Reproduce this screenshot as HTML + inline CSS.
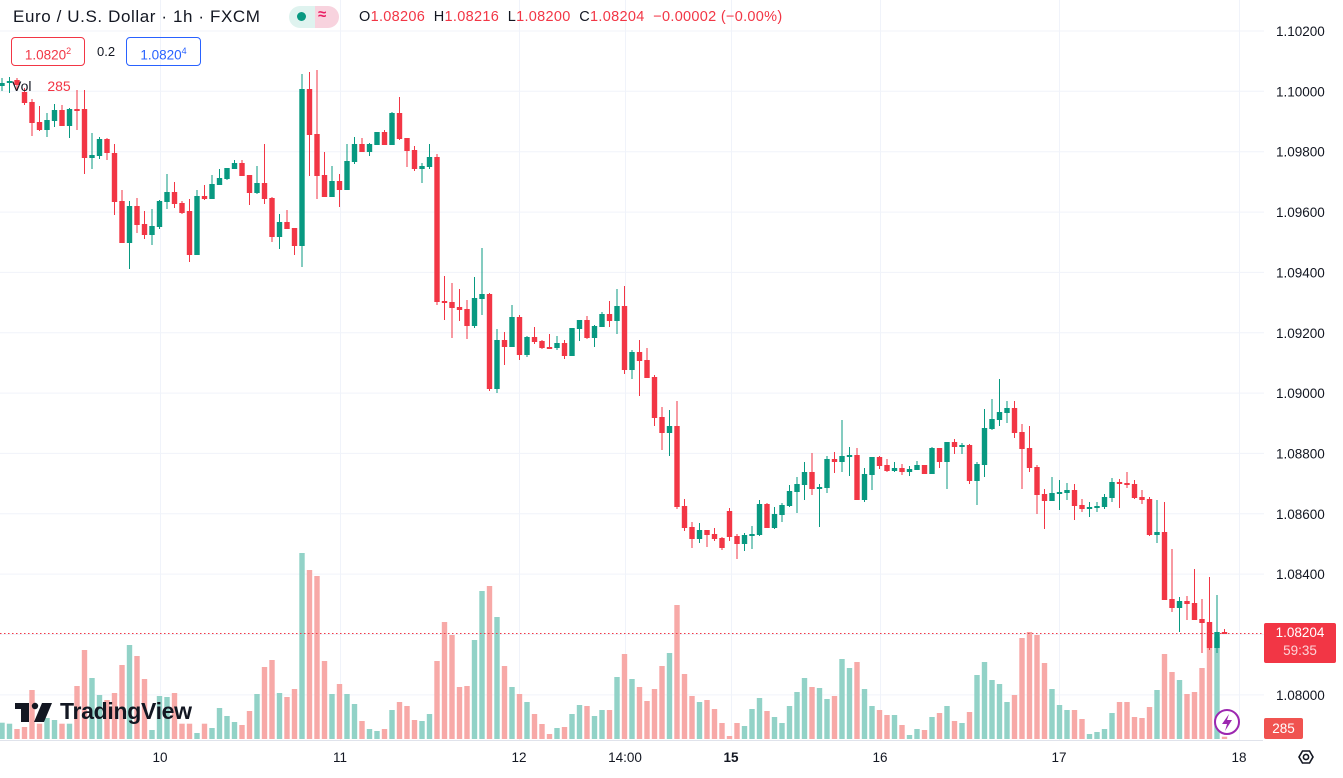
<!DOCTYPE html>
<html><head><meta charset="utf-8"><style>
html,body{margin:0;padding:0;background:#fff;}
body{width:1343px;height:778px;overflow:hidden;position:relative;font-family:"Liberation Sans",sans-serif;color:#131722;}
svg{position:absolute;left:0;top:0;}
.t{position:absolute;white-space:nowrap;}
</style></head><body>
<svg id="c" width="1343" height="778" xmlns="http://www.w3.org/2000/svg"></svg>
<div class="t" style="left:13px;top:7px;font-size:17px;letter-spacing:0.6px;">Euro / U.S. Dollar · 1h · FXCM</div>
<div class="t" style="left:289px;top:6px;width:26px;height:22px;background:#dff3ef;border-radius:11px 0 0 11px;"></div>
<div class="t" style="left:315px;top:6px;width:24px;height:22px;background:#f8d3de;border-radius:0 11px 11px 0;"></div>
<div class="t" style="left:297px;top:12px;width:9px;height:9px;border-radius:50%;background:#089981;"></div>
<div class="t" style="left:318px;top:6px;font-size:15px;color:#e91e63;font-weight:bold;">≈</div>
<div class="t" style="left:359px;top:9px;font-size:14.5px;letter-spacing:0.3px;">O<span style="color:#f23645">1.08206</span>&nbsp; H<span style="color:#f23645">1.08216</span>&nbsp; L<span style="color:#f23645">1.08200</span>&nbsp; C<span style="color:#f23645">1.08204</span>&nbsp; <span style="color:#f23645">−0.00002 (−0.00%)</span></div>
<div class="t" style="left:11px;top:37px;width:72px;height:27px;border:1px solid #f23645;border-radius:4px;color:#f23645;font-size:13.5px;line-height:27px;text-align:center;">1.0820<sup style="font-size:9px">2</sup></div>
<div class="t" style="left:97px;top:44px;font-size:13px;">0.2</div>
<div class="t" style="left:126px;top:37px;width:73px;height:27px;border:1px solid #2962ff;border-radius:4px;color:#2962ff;font-size:13.5px;line-height:27px;text-align:center;">1.0820<sup style="font-size:9px">4</sup></div>
<div class="t" style="left:12px;top:78px;font-size:14px;">Vol <span style="color:#f23645;margin-left:12px">285</span></div>
<div class="t" style="left:60px;top:698px;font-size:23px;font-weight:bold;color:#131722;letter-spacing:-0.3px;">TradingView</div>
<div class="t" style="left:1264px;top:623px;width:72px;height:39px;background:#f23645;border-radius:2px;color:#fff;font-size:13.5px;line-height:18px;text-align:center;padding-top:1px;">1.08204<br><span style="color:#fcd3d7">59:35</span></div>
<div class="t" style="left:1264px;top:718px;width:39px;height:21px;background:#f05350;border-radius:2px;color:#fff;font-size:13.5px;line-height:21px;text-align:center;">285</div>
<script>
var s=document.getElementById('c');var h='';
function L(x1,y1,x2,y2,c,w,d){h+='<line x1="'+x1+'" y1="'+y1+'" x2="'+x2+'" y2="'+y2+'" stroke="'+c+'" stroke-width="'+(w||1)+'"'+(d?' stroke-dasharray="'+d+'"':'')+'/>';}
function R(x,y,w,hh,c){h+='<rect x="'+x+'" y="'+y+'" width="'+w+'" height="'+hh+'" fill="'+c+'"/>';}
function T(x,y,t,sz,c,a,fw){h+='<text x="'+x+'" y="'+y+'" font-size="'+sz+'" fill="'+(c||'#131722')+'" text-anchor="'+(a||'start')+'"'+(fw?' font-weight="'+fw+'"':'')+' font-family="Liberation Sans, sans-serif">'+t+'</text>';}
var pr=['1.10200','1.10000','1.09800','1.09600','1.09400','1.09200','1.09000','1.08800','1.08600','1.08400','1.08200','1.08000'];
for(var k=0;k<12;k++){var y=31+k*60.35;L(0,y.toFixed(1),1264,y.toFixed(1),'#f0f3fa');if(k!=10)T(1276,y+5,pr[k],13.5,'#131722');}
[160,340,519,625,731,880,1059,1239].forEach(function(x){L(x+.5,0,x+.5,740,'#f0f3fa');});
var C=[[86,83,78,91],[83,81,77,93],[80,85,78,90],[92,103,88,105],[102,123,99,136],[122,130,106,131],[130,120,113,137],[121,110,104,127],[110,126,105,126],[126,109,108,138],[109,110,90,130],[109,158,90,174],[158,155,133,169],[156,139,137,159],[139,153,138,160],[153,202,144,215],[201,243,190,243],[243,206,201,269],[206,225,198,233],[224,235,211,239],[235,226,209,245],[227,201,200,229],[202,192,174,209],[192,204,182,208],[203,213,201,214],[211,255,199,262],[255,196,190,255],[196,199,185,200],[199,184,175,199],[185,178,169,185],[179,168,168,180],[169,163,160,169],[163,176,160,176],[175,193,175,205],[193,183,166,194],[183,199,144,204],[198,237,197,242],[237,222,214,249],[222,229,210,229],[228,246,228,255],[246,89,74,267],[89,135,72,176],[134,176,70,199],[175,197,152,197],[197,181,166,197],[181,190,174,207],[190,161,144,190],[162,144,137,164],[144,152,138,152],[152,144,143,156],[145,132,132,145],[132,145,130,145],[145,113,112,145],[113,139,97,140],[138,151,138,167],[150,169,146,171],[169,166,163,183],[167,157,144,169],[157,302,154,305],[301,303,276,320],[302,308,283,338],[307,310,289,321],[309,326,300,339],[326,298,277,328],[299,294,248,315],[294,389,293,391],[389,340,329,393],[340,347,332,365],[347,317,305,347],[317,355,315,360],[355,337,336,357],[337,342,327,344],[341,348,340,349],[347,348,334,349],[348,343,336,350],[343,356,340,359],[356,328,328,356],[329,320,320,341],[320,338,316,339],[338,326,325,347],[327,314,312,327],[314,321,301,327],[321,306,289,334],[306,370,286,374],[370,352,350,379],[352,361,340,396],[360,378,348,378],[377,418,375,426],[417,433,407,450],[433,426,410,456],[426,507,401,509],[506,528,499,531],[527,539,522,548],[539,530,523,543],[530,535,530,547],[534,539,528,541],[538,548,537,550],[511,537,508,541],[536,544,534,559],[544,535,533,551],[536,534,526,549],[535,504,500,536],[504,528,503,528],[528,514,507,529],[515,505,503,522],[506,491,485,507],[492,484,477,513],[485,472,462,500],[472,489,453,495],[489,487,484,527],[488,459,456,493],[459,462,452,473],[462,456,420,472],[457,455,447,476],[455,500,448,500],[500,474,468,502],[475,457,457,490],[457,466,456,469],[465,471,459,472],[471,468,462,472],[468,472,464,475],[472,469,466,476],[470,465,461,470],[465,474,465,474],[474,448,447,474],[448,462,448,468],[462,442,442,489],[442,447,439,454],[447,445,443,454],[445,481,444,484],[481,464,462,505],[465,428,409,477],[429,419,399,430],[420,412,379,426],[413,408,401,423],[408,433,401,438],[432,449,424,489],[448,468,426,472],[467,495,465,514],[494,501,489,529],[501,493,477,501],[494,492,480,510],[493,490,483,500],[490,506,484,520],[505,509,499,512],[509,507,502,517],[508,506,502,512],[507,497,494,509],[498,482,478,502],[482,484,479,508],[483,485,472,488],[484,498,480,499],[497,500,490,504],[499,535,497,536],[535,532,500,543],[532,600,502,600],[599,608,549,612],[608,601,597,632],[601,604,596,620],[603,620,569,620],[619,623,599,653],[622,648,577,650],[648,632,595,653],[632,634,629,634]];
var V5=[548,551,567,561,450,551,534,540,551,551,438,330,414,465,480,459,375,315,348,417,570,468,471,459,551,551,579,551,564,504,528,546,555,513,462,381,360,459,471,447,39,90,108,363,462,432,462,492,543,567,573,567,510,486,498,540,543,522,363,246,285,441,438,300,153,138,231,378,441,462,486,522,552,582,564,561,522,495,498,528,510,510,411];
var V6=[342,417,441,483,447,378,339,195,402,468,486,480,507,549,588,549,558,507,474,513,531,549,498,456,414,441,444,477,468,357,384,366,447,498,510,525,525,555,585,567,570,531,519,498,543,549,516,405,366,420,432,486,465,294,276,285,369,447,495,510,510,537,582,576,567,519,486,486,531,534,501,450,342,396,420,462,456,384,300,291,590];
var V=V5.concat(V6);
for(var i=0;i<C.length;i++){var c=C[i],x=2+7.5*i,up=c[1]<c[0];
 var vy=540+(V[i]||590)/3;R((x-2.7).toFixed(1),vy.toFixed(1),5.4,(739-vy).toFixed(1),up?'#92d2c7':'#f7a9a7');}
L(0,633.5,1262,633.5,'#f23645',1,'1.5 2.5');
for(var i=0;i<C.length;i++){var c=C[i],x=2+7.5*i,up=c[1]<c[0],col=up?'#089981':'#f23645';
 L(x,c[2],x,c[3],col);var t=Math.min(c[0],c[1]),b=Math.max(c[0],c[1]);if(b-t<2)b=t+2;R((x-2.7).toFixed(1),t,5.4,b-t,col);}
L(0,740.5,1263,740.5,'#e0e3eb');
[[160,'10'],[340,'11'],[519,'12'],[625,'14:00'],[1059,'17'],[880,'16'],[1239,'18']].forEach(function(a){T(a[0],762,a[1],13.5,'#131722','middle');});
T(731,762,'15',13.5,'#131722','middle','bold');
R(15,703,14,6,'#131722');R(21,703,8,19,'#131722');h+='<circle cx="35" cy="706" r="3.2" fill="#131722"/>';h+='<polygon points="42,703 52,703 44,722 34,722" fill="#131722"/>';
h+='<circle cx="1227" cy="722" r="12" fill="#fff" stroke="#9c27b0" stroke-width="2"/><polygon points="1229,714 1222,724 1227,724 1225,731 1232,720 1227,720" fill="#9c27b0"/>';
h+='<polygon points="1299,757 1302.5,751 1309.5,751 1313,757 1309.5,763 1302.5,763" fill="none" stroke="#131722" stroke-width="1.6"/><circle cx="1306" cy="757" r="2.6" fill="none" stroke="#131722" stroke-width="1.6"/>';
s.innerHTML=h;
</script>
</body></html>
